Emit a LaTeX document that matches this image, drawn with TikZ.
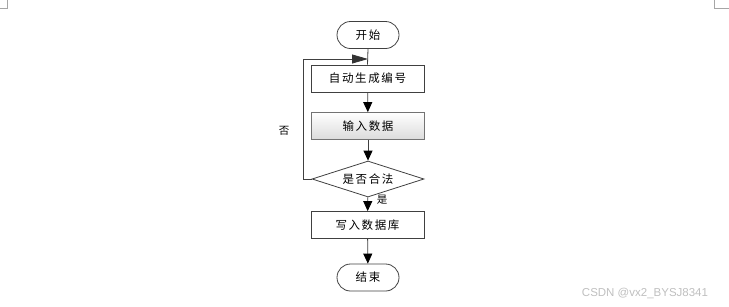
\documentclass[tikz,border=0pt]{standalone}
\usepackage{fontspec}
\newfontfamily\cjk[LetterSpace=14]{Noto Sans CJK SC}
\newfontfamily\wmfont{Liberation Sans}
\usetikzlibrary{shapes.geometric,arrows.meta}
\begin{document}
\begin{tikzpicture}[x=1pt,y=-1pt,
  base/.style={draw=black!75, line width=0.8pt, font=\cjk\fontsize{11.5}{13}\selectfont, inner sep=0pt, text=black},
  term/.style={base, minimum width=62pt, minimum height=27pt, rounded corners=13.5pt},
  proc/.style={base, minimum width=113pt, minimum height=27pt},
  shadedproc/.style={proc, draw=black!55, top color=white, bottom color=black!14},
  decision/.style={base, diamond, aspect=3.1, minimum width=112pt, minimum height=36pt},
  flow/.style={draw=black!75, line width=0.8pt, -{Triangle[length=10pt,width=9pt,color=black]}},
  lbl/.style={font=\cjk\fontsize{10.5}{12}\selectfont, inner sep=0pt}
]
\useasboundingbox (0,0) rectangle (729,306);
% page corner marks
\draw[black!35, line width=0.6pt] (7,0) -- (7,8) -- (0,8);
\draw[black!35, line width=0.6pt] (714,0) -- (714,8) -- (729,8);

\node[term] (start) at (368,35) {开始};
\node[proc] (b1) at (367.5,78.5) {自动生成编号};
\node[shadedproc] (b2) at (368,126) {输入数据};
\node[decision] (dec) at (368,179) {是否合法};
\node[proc] (b3) at (367.5,225) {写入数据库};
\node[term] (end) at (368,277.5) {结束};

\coordinate (loopin) at (368,59);
\coordinate (loopleft) at (303,59);

\draw[draw=black!75, line width=0.8pt] (start.south) -- (b1.north);
\draw[flow] (b1) -- (b2);
\draw[flow] (b2) -- (dec);
\draw[flow] (dec) -- (b3);
\draw[flow] (b3) -- (end);
\draw[draw=black!75, line width=0.8pt, -{Triangle[length=16pt,width=9pt,color=black!80]}] (dec.west) -| (loopleft) -- (loopin);

\node[lbl] (no) at (284,131) {否};
\node[lbl] (yes) at (382,200) {是};

\node[font=\wmfont\fontsize{11.5}{13}\selectfont, text=black!25, inner sep=0pt] (wm) at (645,293) {CSDN @vx2\_BYSJ8341};
\end{tikzpicture}
\end{document}
